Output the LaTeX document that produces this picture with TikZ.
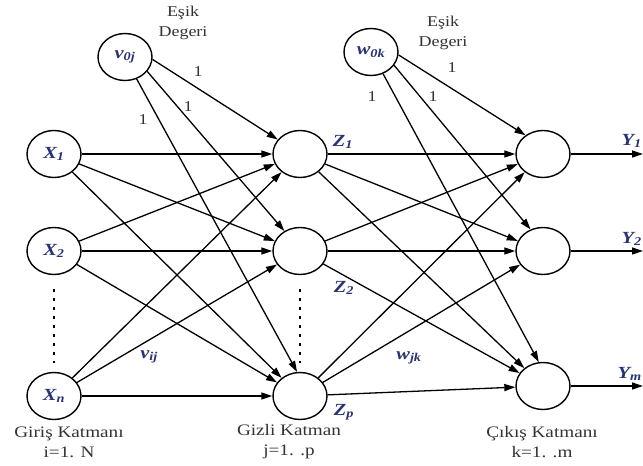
\documentclass[tikz,border=0pt]{standalone}
\usepackage{fontspec}
\setmainfont[FakeStretch=1.2]{Liberation Serif}
\usetikzlibrary{shapes.geometric,arrows.meta,calc}
\definecolor{lblblue}{HTML}{2A3370}
\definecolor{captxt}{HTML}{333333}
\tikzset{
  neuron/.style={draw, ellipse, minimum width=54pt, minimum height=47pt, inner sep=0pt, line width=1.4pt},
  link/.style={-{Triangle[length=11pt,width=7pt]}, line width=1.3pt},
  varlbl/.style={text=lblblue, font=\fontsize{17}{17}\selectfont\bfseries\itshape, inner sep=0pt},
  caption/.style={text=captxt, font=\fontsize{16}{20}\selectfont, align=center, inner sep=0pt},
  biascap/.style={text=captxt, font=\fontsize{15}{20.5}\selectfont, align=center, inner sep=0pt},
  onelbl/.style={text=captxt, font=\fontsize{15}{15}\selectfont, inner sep=0pt},
  dotcol/.style={line width=2.6pt, dash pattern=on 2.6pt off 6.4pt},
}
\begin{document}
\begin{tikzpicture}[x=1pt,y=-1pt]
\useasboundingbox (0,0) rectangle (643,466);
\fill[white] (0,0) rectangle (643,466);

% input layer
\node[neuron] (X1) at (54,154) {};
\node[neuron] (X2) at (54,251) {};
\node[neuron] (Xn) at (54,396) {};
\node[varlbl] at (X1) {X\textsubscript{1}};
\node[varlbl] at (X2) {X\textsubscript{2}};
\node[varlbl] at (Xn) {X\textsubscript{n}};

% hidden layer and its bias
\node[neuron] (H1) at (300,154) {};
\node[neuron] (H2) at (300,251) {};
\node[neuron] (Hp) at (300,396) {};
\node[neuron] (V0) at (125,57) {};
\node[varlbl] at (V0) {v\textsubscript{0j}};

% output layer and its bias
\node[neuron] (O1) at (543,154) {};
\node[neuron] (O2) at (543,251) {};
\node[neuron] (O3) at (543,386) {};
\node[neuron] (W0) at (371,52) {};
\node[varlbl] at (W0) {w\textsubscript{0k}};

% threshold captions
\node[biascap] (capv) at (183,23) {Eşik\\Degeri};
\node[biascap] (capw) at (443,33) {Eşik\\Degeri};

% input -> hidden
\foreach \s in {X1,X2,Xn}
  \foreach \t in {H1,H2,Hp}
    \draw[link] (\s) -- (\t);

% hidden -> output
\foreach \s in {H1,H2,Hp}
  \foreach \t in {O1,O2,O3}
    \draw[link] (\s) -- (\t);

% bias connections
\draw[link] (V0.-5) -- (H1.147);
\draw[link] (V0.-33) -- (H2.128);
\draw[link] (V0.-62) -- (Hp.97);
\draw[link] (W0.-6) -- (O1.133);
\draw[link] (W0.-30) -- (O2.120);
\draw[link] (W0.-61) -- (O3.100);

\node[onelbl] (b1) at (198,72) {1};
\node[onelbl] (b2) at (188,107) {1};
\node[onelbl] (b3) at (143,120) {1};
\node[onelbl] (c1) at (452,68) {1};
\node[onelbl] (c2) at (433,97) {1};
\node[onelbl] (c3) at (372,97) {1};

% outputs
\coordinate (e1) at (643,154);
\coordinate (e2) at (643,251);
\coordinate (e3) at (643,386);
\draw[link] (O1) -- (e1);
\draw[link] (O2) -- (e2);
\draw[link] (O3) -- (e3);
\node[varlbl, anchor=east] (y1) at (642,141) {Y\textsubscript{1}};
\node[varlbl, anchor=east] (y2) at (642,239) {Y\textsubscript{2}};
\node[varlbl, anchor=east] (ym) at (642,374) {Y\textsubscript{m}};

% weight and signal labels
\node[varlbl] (z1) at (343,142) {Z\textsubscript{1}};
\node[varlbl] (z2) at (344,288) {Z\textsubscript{2}};
\node[varlbl] (zp) at (344,412) {Z\textsubscript{p}};
\node[varlbl] (vij) at (149,357) {v\textsubscript{ij}};
\node[varlbl] (wjk) at (409,358) {w\textsubscript{jk}};

% ellipsis dots between neurons
\draw[dotcol] ($(X2.south)+(0,14)$) -- ($(Xn.north)+(0,-9)$);
\draw[dotcol] ($(H2.south)+(0,14)$) -- ($(Hp.north)+(0,-9)$);

% layer captions
\node[caption] (lin) at (69,442) {Giriş Katmanı\\i=1. N};
\node[caption] (lhid) at (289,442) {Gizli Katman\\j=1. .p};
\node[caption] (lout) at (542,442) {Çıkış Katmanı\\k=1. .m};
\end{tikzpicture}
\end{document}
